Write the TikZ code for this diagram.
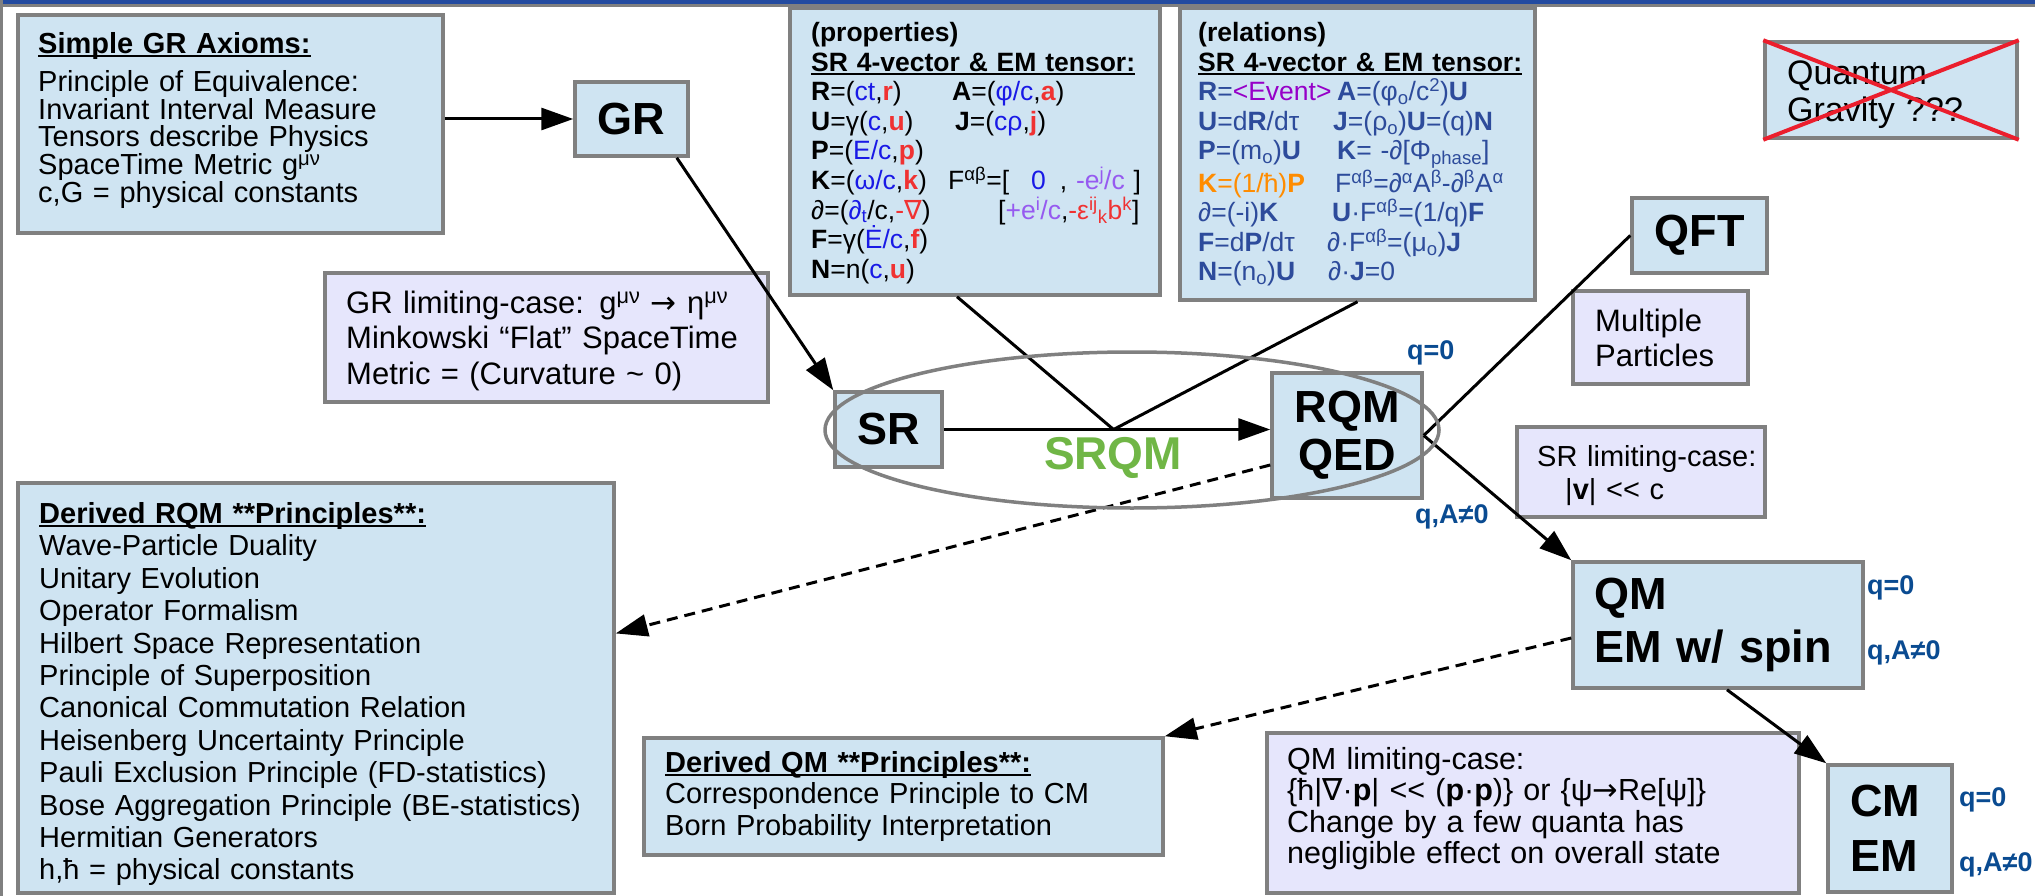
\documentclass[tikz,border=0pt]{standalone}
\usepackage{fontspec}
\setmainfont{Liberation Sans}
\newfontfamily\dvs{DejaVu Sans}
\usetikzlibrary{arrows.meta,calc}
\definecolor{boxblue}{RGB}{207,228,242}
\definecolor{lav}{RGB}{230,230,252}
\definecolor{bgray}{RGB}{128,128,128}
\definecolor{qblue}{RGB}{10,75,145}
\definecolor{relblue}{RGB}{45,75,155}
\definecolor{pblue}{RGB}{25,25,230}
\definecolor{pred}{RGB}{240,50,50}
\definecolor{ppur}{RGB}{150,90,240}
\definecolor{evpur}{RGB}{150,0,200}
\definecolor{orng}{RGB}{255,140,0}
\definecolor{srqmgreen}{RGB}{112,182,70}
\definecolor{xred}{RGB}{235,30,45}
\definecolor{barblue}{RGB}{35,75,160}
\newcommand\colB[1]{\textcolor{pblue}{#1}}
\newcommand\colR[1]{\textcolor{pred}{#1}}
\newcommand\colP[1]{\textcolor{ppur}{#1}}
\newcommand\colE[1]{\textcolor{evpur}{#1}}
\newcommand\sps[1]{\textsuperscript{#1}}
\newcommand\sbs[1]{\textsubscript{#1}}
\newcommand\ulx[1]{\leavevmode\setbox0\hbox{#1}\rlap{\rule[-3.5pt]{\wd0}{1.8pt}}\box0}
\newcommand\colw[2]{\makebox[#1pt][l]{#2}}
\tikzset{
  bx/.style={draw=bgray, line width=3.5pt, fill=boxblue, inner sep=0pt},
  lbx/.style={bx, fill=lav},
  txt/.style={inner sep=0pt, align=left, anchor=base west, text width=#1},
  big/.style={font=\fontsize{45}{52}\selectfont\bfseries},
  arr/.style={line width=3pt, -{Triangle[length=32pt,width=22pt]}},
  ln/.style={line width=3pt},
  dsh/.style={line width=3pt, dash pattern=on 11pt off 7pt, -{Triangle[length=32pt,width=22pt]}},
  ql/.style={text=qblue, font=\fontsize{27}{30}\selectfont\bfseries, inner sep=0pt, anchor=west},
}
\begin{document}
\begin{tikzpicture}[x=1pt,y=-1pt]
\useasboundingbox (0,0) rectangle (2035,896);
\fill[white] (0,0) rectangle (2035,896);
\fill[barblue] (0,0) rectangle (2035,4);
\fill[bgray] (0,4) rectangle (2035,7);
\fill[bgray] (0,0) rectangle (3,896);

% boxes
\node[bx, minimum width=425pt, minimum height=218pt] (ax) at (230.5,124) {};
\node[bx, big, minimum width=113pt, minimum height=74pt] (GR) at (631.5,119) {GR};
\node[bx, minimum width=370pt, minimum height=287pt] (props) at (975,151.5) {};
\node[bx, minimum width=355pt, minimum height=292pt] (rel) at (1357.5,154) {};
\node[bx, minimum width=252pt, minimum height=96pt] (QG) at (1891,90) {};
\node[lbx, minimum width=443pt, minimum height=129pt] (grlim) at (546.5,337.5) {};
\node[bx, big, minimum width=107pt, minimum height=75pt] (SR) at (888.5,429.5) {SR};
\node[bx, big, minimum width=135pt, minimum height=75pt] (QFT) at (1699.5,235.5) {QFT};
\node[lbx, minimum width=175pt, minimum height=93pt] (MP) at (1660.5,337.5) {};
\node[bx, align=center, minimum width=150pt, minimum height=125pt, font=\fontsize{45}{48}\selectfont\bfseries] (RQM) at (1347,435.5) {RQM\\QED};
\node[lbx, minimum width=248pt, minimum height=90pt] (srlim) at (1641,472) {};
\node[bx, minimum width=596pt, minimum height=410pt] (drqm) at (316,688) {};
\node[bx, align=left, text width=248pt, minimum width=290pt, minimum height=126pt, font=\fontsize{45}{53}\selectfont\bfseries] (QM) at (1718,625) {QM\\EM w/ spin};
\node[bx, minimum width=519pt, minimum height=117pt] (dqm) at (903.5,796.5) {};
\node[lbx, minimum width=532pt, minimum height=160pt] (qmlim) at (1533,813) {};
\node[bx, align=left, text width=80pt, minimum width=124pt, minimum height=127pt, font=\fontsize{45}{55}\selectfont\bfseries] (CM) at (1890,828.5) {CM\\EM};

% texts
\node[txt=400pt, font=\fontsize{29}{26.7}\selectfont] (axt) at (38,53.5) {%
\ulx{\textbf{Simple GR Axioms:}}\\[9.8pt]
Principle of Equivalence:\\
Invariant Interval Measure\\
Tensors describe Physics\\
SpaceTime Metric g\sps{μν}\\
c,G = physical constants};

\node[txt=345pt, font=\fontsize{26.5}{29.6}\selectfont] (propt) at (811,41.5) {%
\textbf{(properties)}\\
\ulx{\textbf{SR 4-vector \& EM tensor:}}\\
\colw{141}{\textbf{R}=(\colB{ct},\colR{\textbf{r}})}\textbf{A}=(\colB{φ/c},\colR{\textbf{a}})\\
\colw{144}{\textbf{U}=γ(\colB{c},\colR{\textbf{u}})}\textbf{J}=(\colB{cρ},\colR{\textbf{j}})\\
\textbf{P}=(\colB{E/c},\colR{\textbf{p}})\\
\colw{137}{\textbf{K}=(\colB{ω/c},\colR{\textbf{k}})}F\sps{αβ}=[\hspace{22pt}\colB{0}\hspace{14pt}, \colP{-e\sps{j}/c} ]\\
\colw{187}{∂=(\colB{∂\sbs{t}}/c,\colR{-{\dvs ∇}})}[\colP{+e\sps{i}/c},\colR{-ε\sps{ij}\sbs{k}b\sps{k}}]\\
\textbf{F}=γ(\colB{Ė/c},\colR{\textbf{f}})\\
\textbf{N}=n(\colB{c},\colR{\textbf{u}})};

\node[txt=335pt, font=\fontsize{26.5}{29.6}\selectfont, text=relblue] (relt) at (1198,41.5) {%
\textcolor{black}{\textbf{(relations)}}\\
\textcolor{black}{\ulx{\textbf{SR 4-vector \& EM tensor:}}}\\
\colw{139}{\textbf{R}=\colE{<Event>}}\textbf{A}=(φ\sbs{o}/c\sps{2})\textbf{U}\\
\colw{135}{\textbf{U}=d\textbf{R}/dτ}\textbf{J}=(ρ\sbs{o})\textbf{U}=(q)\textbf{N}\\
\colw{139}{\textbf{P}=(m\sbs{o})\textbf{U}}\textbf{K}= -∂[Φ\sbs{phase}]\\
\colw{137}{\textcolor{orng}{\textbf{K}=(1/ħ)\textbf{P}}}F\sps{αβ}=∂\sps{α}A\sps{β}-∂\sps{β}A\sps{α}\\
\colw{134}{∂=(-i)\textbf{K}}\textbf{U}·F\sps{αβ}=(1/q)\textbf{F}\\
\colw{129}{\textbf{F}=d\textbf{P}/dτ}∂·F\sps{αβ}=(μ\sbs{o})\textbf{J}\\
\colw{130}{\textbf{N}=(n\sbs{o})\textbf{U}}∂·\textbf{J}=0};

\node[txt=420pt, font=\fontsize{31}{35.5}\selectfont] (grlimt) at (346,313) {%
GR limiting-case: g\sps{μν} {\dvs →} η\sps{μν}\\
Minkowski “Flat” SpaceTime\\
Metric = (Curvature \string~ 0)};

\node[txt=230pt, font=\fontsize{34}{37}\selectfont] (qgt) at (1787,85) {Quantum\\Gravity ???};
\node[txt=160pt, font=\fontsize{31}{35}\selectfont] (mpt) at (1595,331) {Multiple\\Particles};
\node[txt=230pt, font=\fontsize{29}{33}\selectfont] (srlimt) at (1537,466) {SR limiting-case:\\\hspace*{28pt}|\textbf{v}| <\kern0pt< c};
\node[txt=510pt, font=\fontsize{30.5}{31.5}\selectfont] (qmlimt) at (1287,769) {%
QM limiting-case:\\
\{ħ|{\dvs ∇}·\textbf{p}| <\kern0pt< (\textbf{p}·\textbf{p})\} or \{ψ{\dvs →}Re[ψ]\}\\
Change by a few quanta has\\
negligible effect on overall state};

\node[txt=570pt, font=\fontsize{29}{32.4}\selectfont] (drqmt) at (39,523.5) {%
\ulx{\textbf{Derived RQM **Principles**:}}\\
Wave-Particle Duality\\
Unitary Evolution\\
Operator Formalism\\
Hilbert Space Representation\\
Principle of Superposition\\
Canonical Commutation Relation\\
Heisenberg Uncertainty Principle\\
Pauli Exclusion Principle (FD-statistics)\\
Bose Aggregation Principle (BE-statistics)\\
Hermitian Generators\\
h,ħ = physical constants};

\node[txt=490pt, font=\fontsize{29}{31.5}\selectfont] (dqmt) at (665,772) {%
\ulx{\textbf{Derived QM **Principles**:}}\\
Correspondence Principle to CM\\
Born Probability Interpretation};

% labels
\node[ql] (q1) at (1407,353) {q=0};
\node[ql] (q2) at (1415,517) {q,A≠0};
\node[ql] (q3) at (1867,588) {q=0};
\node[ql] (q4) at (1867,653) {q,A≠0};
\node[ql] (q5) at (1959,800) {q=0};
\node[ql] (q6) at (1959,865) {q,A≠0};
\node[text=srqmgreen, font=\fontsize{46}{50}\selectfont\bfseries, inner sep=0pt] (srqm) at (1113,458) {SRQM};

% connectors
\coordinate (J) at ($(SR.east)!0.52!(SR.east -| RQM.west)$);
\draw[arr] (ax.east |- GR.west) -- (GR.west);
\draw[arr] ([xshift=-13pt]GR.south east) -- (SR.north west);
\draw[arr] (SR.east) -- (SR.east -| RQM.west);
\draw[ln] ([xshift=-18pt]props.south) -- (J);
\draw[ln] (rel.south) -- (J);
\draw[ln] (RQM.east) -- (QFT.west);
\draw[arr] (RQM.east) -- (QM.north west);
\draw[dsh] ([yshift=-29.5pt]RQM.west) -- ($(drqm.north east)!0.368!(drqm.south east)$);
\draw[arr] ([xshift=9pt]QM.south) -- (CM.north west);
\draw[dsh] ([yshift=-13pt]QM.west) -- (dqm.north east);

% cross on quantum gravity
\draw[xred, line width=4pt] (QG.north west) -- (QG.south east);
\draw[xred, line width=4pt] (QG.south west) -- (QG.north east);

% SRQM ellipse
\draw[bgray, line width=3.5pt] (1132,430) ellipse [x radius=307, y radius=78];
\end{tikzpicture}
\end{document}
